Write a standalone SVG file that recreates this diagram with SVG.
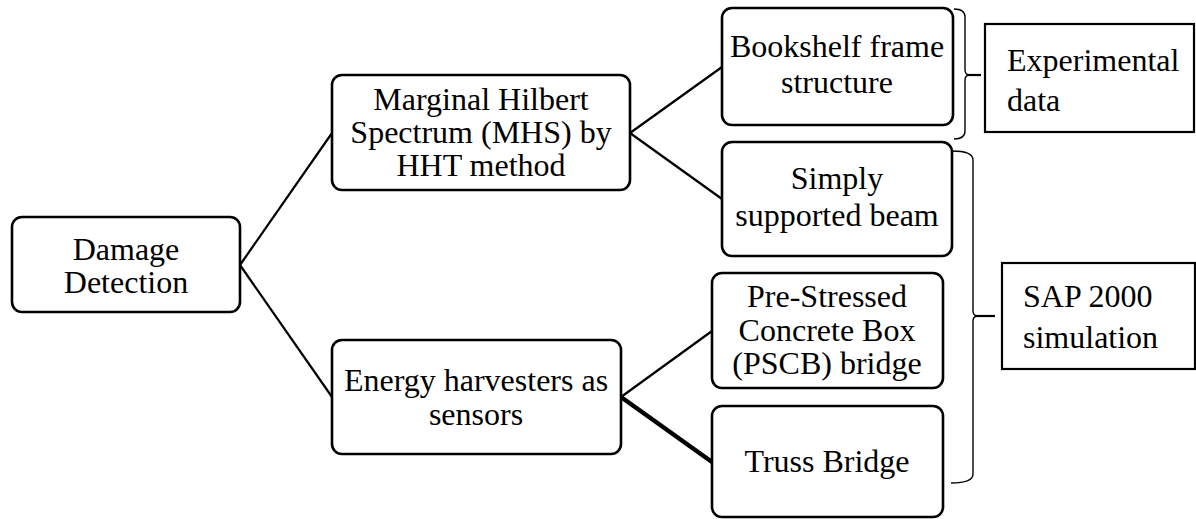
<svg xmlns="http://www.w3.org/2000/svg" width="1196" height="519" viewBox="0 0 1196 519">
<style>
.node{fill:#fff;stroke:#000;stroke-width:2.6}
.box{fill:#fff;stroke:#000;stroke-width:2.2}
.t{font-family:'Liberation Serif','Times New Roman',serif;font-size:32px;fill:#000}
.c{text-anchor:middle}
.conn{stroke:#000;stroke-width:2.2;fill:none}
.thick{stroke:#000;stroke-width:4.5;fill:none}
.brace{stroke:#000;stroke-width:1.4;fill:none}
</style>
<rect width="1196" height="519" fill="#fff"/>
<g id="connectors">
<line class="conn" x1="240" y1="265" x2="332" y2="133"/>
<line class="conn" x1="240" y1="265" x2="332" y2="397"/>
<line class="conn" x1="630" y1="133" x2="722" y2="67"/>
<line class="conn" x1="630" y1="133" x2="722" y2="199"/>
<line class="conn" x1="621" y1="397" x2="712" y2="331"/>
<line class="thick" x1="621" y1="397" x2="712" y2="462"/>
<path class="brace" d="M954,9 Q965,9 965,17 L965,70 Q965,75 970,75 Q965,75 965,80 L965,131 Q965,139 954,139"/>
<line class="conn" x1="968" y1="75" x2="981" y2="75"/>
<path class="brace" d="M952,151 Q973,151 973,160 L973,311 Q973,316 978,316 Q973,316 973,321 L973,474 Q973,483 951,483"/>
<line class="conn" x1="976" y1="316" x2="995" y2="316"/>
</g>
<g id="damage">
<rect class="node" x="12" y="217" width="228" height="95" rx="10"/>
<text class="t c" x="126" y="260">Damage</text>
<text class="t c" x="126" y="293">Detection</text>
</g>
<g id="mhs">
<rect class="node" x="332" y="75" width="298" height="115" rx="10"/>
<text class="t c" x="481" y="110">Marginal Hilbert</text>
<text class="t c" x="481" y="143">Spectrum (MHS) by</text>
<text class="t c" x="481" y="176">HHT method</text>
</g>
<g id="energy">
<rect class="node" x="332" y="340" width="289" height="114" rx="10"/>
<text class="t c" x="476" y="391">Energy harvesters as</text>
<text class="t c" x="476" y="425">sensors</text>
</g>
<g id="bookshelf">
<rect class="node" x="722" y="8" width="231" height="117" rx="10"/>
<text class="t c" x="837" y="57">Bookshelf frame</text>
<text class="t c" x="837" y="93">structure</text>
</g>
<g id="beam">
<rect class="node" x="722" y="142" width="230" height="114" rx="10"/>
<text class="t c" x="837" y="189">Simply</text>
<text class="t c" x="837" y="226">supported beam</text>
</g>
<g id="pscb">
<rect class="node" x="712" y="273" width="231" height="115" rx="10"/>
<text class="t c" x="827" y="307">Pre-Stressed</text>
<text class="t c" x="827" y="341">Concrete Box</text>
<text class="t c" x="827" y="374">(PSCB) bridge</text>
</g>
<g id="truss">
<rect class="node" x="712" y="406" width="231" height="111" rx="10"/>
<text class="t c" x="827" y="472">Truss Bridge</text>
</g>
<g id="experimental">
<rect class="box" x="985" y="24" width="209" height="108"/>
<text class="t" x="1007" y="71">Experimental</text>
<text class="t" x="1007" y="111">data</text>
</g>
<g id="sap">
<rect class="box" x="1002" y="263" width="193" height="106"/>
<text class="t" x="1023" y="307">SAP 2000</text>
<text class="t" x="1023" y="348">simulation</text>
</g>
</svg>
